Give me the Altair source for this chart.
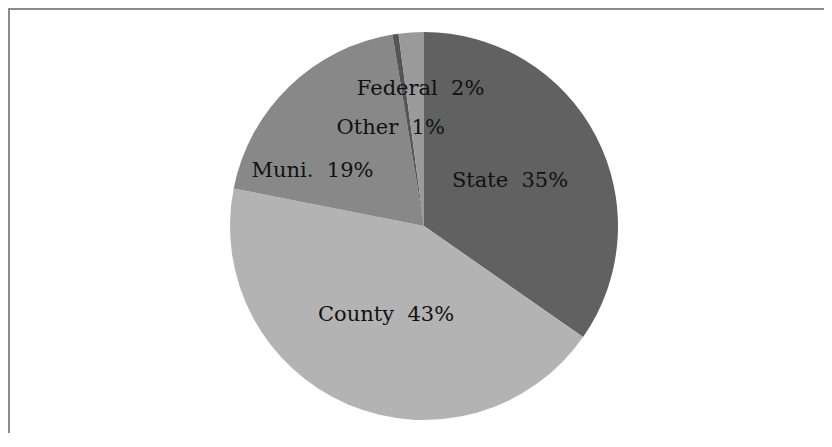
import altair as alt
import pandas as pd

categories = ["State", "County", "Muni.", "Other", "Federal"]
shares = [34.7, 43.4, 19.3, 0.5, 2.1]
pct_labels = ["35%", "43%", "19%", "1%", "2%"]
colors = ["#616161", "#b3b3b3", "#888888", "#555555", "#9a9a9a"]

df = pd.DataFrame({
    "cat": categories,
    "share": shares,
    "pct": pct_labels,
    "idx": list(range(len(categories))),
})
df["label"] = df["cat"] + "\u00a0 " + df["pct"]

CX, CY, R, RL = 416, 218, 194, 97
theta_scale = alt.Scale(domain=[0, 100])
FONT = "DejaVu Serif"

base = alt.Chart(df)

pie = base.mark_arc(outerRadius=R).encode(
    theta=alt.Theta("share:Q", stack=True, scale=theta_scale),
    color=alt.Color("cat:N", scale=alt.Scale(domain=categories, range=colors), legend=None),
    order=alt.Order("idx:Q"),
    x=alt.value(CX),
    y=alt.value(CY),
)

text_base = base.transform_window(
    cum="sum(share)", sort=[alt.SortField("idx")], frame=[None, 0]
).transform_calculate(mid="datum.cum - datum.share / 2")


def labels(names, dx=0, dy=0):
    return text_base.transform_filter(
        alt.FieldOneOfPredicate(field="cat", oneOf=names)
    ).mark_text(
        font=FONT, fontSize=21, color="#111111",
        align="center", baseline="middle", dx=dx, dy=dy,
    ).encode(
        theta=alt.Theta("mid:Q", scale=theta_scale),
        radius=alt.value(RL),
        text="label:N",
        x=alt.value(CX),
        y=alt.value(CY),
    )


frame = alt.Chart(pd.DataFrame({"f": [0]})).mark_rect(
    filled=False, stroke="#8c8c8c", strokeWidth=2
).encode(
    x=alt.value(1), x2=alt.value(2000), y=alt.value(1), y2=alt.value(2000)
)

chart = alt.layer(
    pie,
    labels(["State", "County"]),
    labels(["Muni."], dx=-44, dy=15),
    labels(["Other"], dx=-19, dy=-2),
    labels(["Federal"], dx=3, dy=-40),
    frame,
).properties(
    width=816, height=425, padding=0,
    autosize=alt.AutoSizeParams(type="none"),
).configure_view(stroke=None)

chart.save("out.html", embed_options={"renderer": "svg", "actions": False})
